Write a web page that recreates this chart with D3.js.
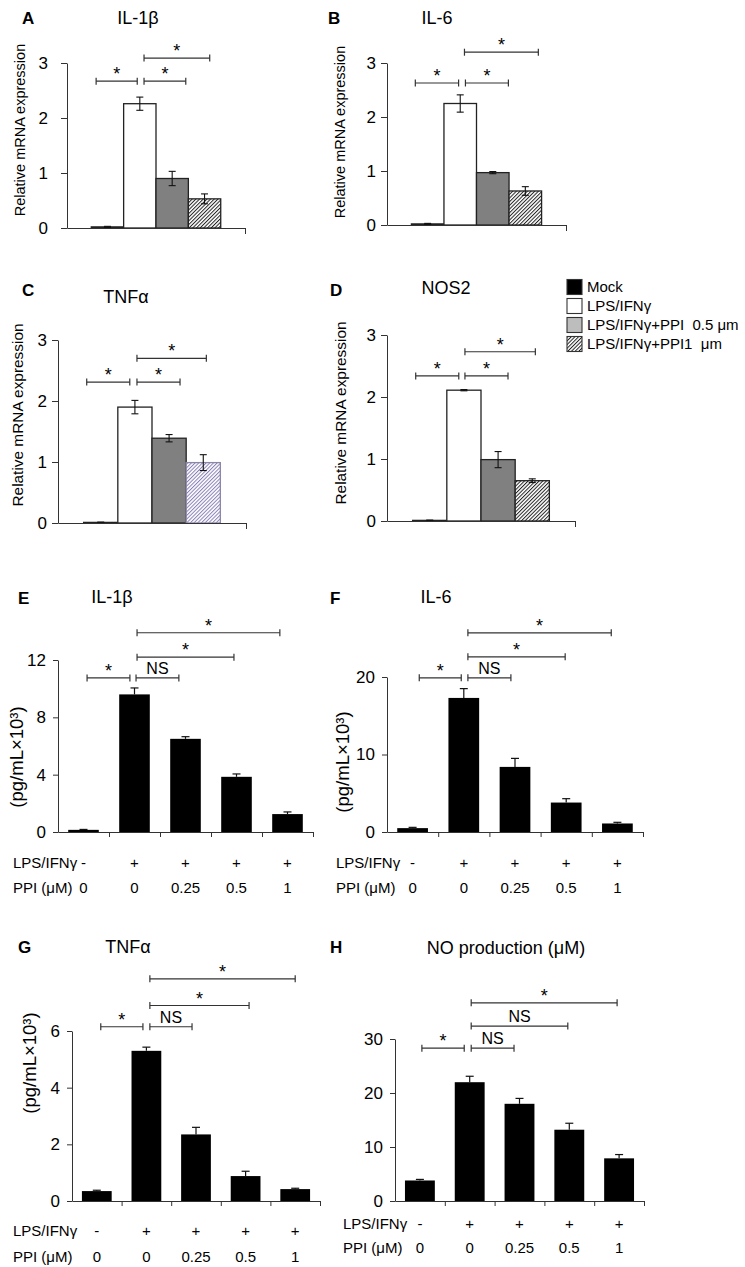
<!DOCTYPE html>
<html>
<head>
<meta charset="utf-8">
<script src="https://cdn.jsdelivr.net/npm/d3@7"></script>
<style>
  body { margin: 0; background: #fff; }
  svg text { font-family: 'Liberation Sans', Arial, sans-serif; fill: #000; }
</style>
</head>
<body>
<div class="canvas"></div>
<script>
'use strict';

// mRNA panels (A-D): 4 groups
const groups = ['Mock', 'LPS/IFNγ', 'LPS/IFNγ+PPI 0.5 μm', 'LPS/IFNγ+PPI1 μm'];
const legendLabels = ['Mock', 'LPS/IFNγ', 'LPS/IFNγ+PPI\u00a0 0.5 μm', 'LPS/IFNγ+PPI1\u00a0 μm'];
const mrnaTicks = [0, 1, 2, 3];

const il1bMrna = [0.02, 2.26, 0.9, 0.53];
const il1bMrnaErr = [0.01, 0.12, 0.13, 0.09];
const il6Mrna = [0.02, 2.25, 0.97, 0.63];
const il6MrnaErr = [0.01, 0.16, 0.02, 0.08];
const tnfMrna = [0.01, 1.9, 1.39, 0.99];
const tnfMrnaErr = [0.005, 0.11, 0.06, 0.13];
const nos2Mrna = [0.01, 2.11, 0.99, 0.65];
const nos2MrnaErr = [0.005, 0.01, 0.13, 0.03];

// significance brackets: [from, to (in bar units), level, label]
const il1bMrnaSig = [[0.15, 1.42, 2.67, '*'], [1.63, 2.92, 2.67, '*'], [1.63, 3.66, 3.09, '*']];
const il6MrnaSig = [[0.12, 1.45, 2.63, '*'], [1.66, 2.98, 2.63, '*'], [1.63, 3.9, 3.2, '*']];
const tnfMrnaSig = [[0.09, 1.35, 2.31, '*'], [1.56, 2.82, 2.31, '*'], [1.56, 3.59, 2.7, '*']];
const nos2MrnaSig = [[0.09, 1.35, 2.34, '*'], [1.53, 2.79, 2.34, '*'], [1.53, 3.59, 2.73, '*']];

// protein panels (E-H): 5 conditions
const conditions = ['Mock', 'LPS/IFNγ', 'PPI 0.25', 'PPI 0.5', 'PPI 1'];
const lpsRow = ['-', '+', '+', '+', '+'];
const ppiRow = ['0', '0', '0.25', '0.5', '1'];
const rowNames = ['LPS/IFNγ', 'PPI (μM)'];

const il1bProt = [0.15, 9.6, 6.5, 3.85, 1.25];
const il1bProtErr = [0.03, 0.45, 0.15, 0.2, 0.15];
const il6Prot = [0.5, 17.3, 8.4, 3.8, 1.1];
const il6ProtErr = [0.1, 1.2, 1.1, 0.5, 0.15];
const tnfProt = [0.35, 5.3, 2.35, 0.88, 0.42];
const tnfProtErr = [0.03, 0.13, 0.25, 0.17, 0.03];
const noProd = [3.8, 22.0, 18.0, 13.2, 7.9];
const noProdErr = [0.2, 1.1, 1.0, 1.2, 0.7];

const il1bProtTicks = [0, 4, 8, 12];
const il6ProtTicks = [0, 10, 20];
const tnfProtTicks = [0, 2, 4, 6];
const noProdTicks = [0, 10, 20, 30];

const il1bProtSig = [[0.57, 1.41, 10.75, '*'], [1.53, 2.37, 10.75, 'NS'], [1.55, 3.45, 12.2, '*'], [1.55, 4.35, 13.9, '*']];
const il6ProtSig = [[0.63, 1.45, 19.9, '*'], [1.58, 2.42, 19.9, 'NS'], [1.58, 3.48, 22.6, '*'], [1.58, 4.38, 25.7, '*']];
const tnfProtSig = [[0.58, 1.43, 6.15, '*'], [1.57, 2.42, 6.15, 'NS'], [1.57, 3.57, 6.9, '*'], [1.57, 4.5, 7.84, '*']];
const noProdSig = [[0.54, 1.39, 28.3, '*'], [1.53, 2.39, 28.3, 'NS'], [1.53, 3.47, 32.4, 'NS'], [1.53, 4.46, 36.7, '*']];

const svg = d3
  .select('.canvas')
  .append('svg')
  .attr('width', 745)
  .attr('height', 1267);

const defs = svg.append('defs');
const addHatch = (id, color) => {
  const p = defs
    .append('pattern')
    .attr('id', id)
    .attr('patternUnits', 'userSpaceOnUse')
    .attr('width', 2.6)
    .attr('height', 4)
    .attr('patternTransform', 'rotate(45)');
  p.append('rect').attr('width', 2.6).attr('height', 4).attr('fill', '#fff');
  p.append('line')
    .attr('x1', 0.5).attr('y1', 0).attr('x2', 0.5).attr('y2', 4)
    .attr('stroke', color)
    .attr('stroke-width', 1);
};
addHatch('hatch', '#222');
addHatch('hatchLilac', '#8a80b8');

const styleAxis = (sel, size) => {
  sel.attr('font-family', null).attr('font-size', null);
  sel.selectAll('path, line').attr('stroke', '#333');
  sel.selectAll('text').style('font-size', size + 'px');
};

const drawSig = (g, sig, u, y) => {
  sig.forEach(([a, b, level, label]) => {
    const yy = y(level);
    g.append('line')
      .attr('x1', u(a)).attr('x2', u(b))
      .attr('y1', yy).attr('y2', yy)
      .attr('stroke', '#333').attr('stroke-width', 1.2);
    [a, b].forEach(e => {
      g.append('line')
        .attr('x1', u(e)).attr('x2', u(e))
        .attr('y1', yy - 3.5).attr('y2', yy + 3.5)
        .attr('stroke', '#333').attr('stroke-width', 1.2);
    });
    g.append('text')
      .attr('x', (u(a) + u(b)) / 2)
      .attr('y', label === '*' ? yy - 1 : yy - 4)
      .attr('text-anchor', 'middle')
      .style('font-size', label === '*' ? '18px' : '16px')
      .text(label);
  });
};

const heading = p => {
  svg.append('text')
    .attr('x', p.letterX).attr('y', p.letterY)
    .style('font-size', '17px').style('font-weight', 'bold')
    .text(p.letter);
  svg.append('text')
    .attr('x', p.titleX).attr('y', p.titleY)
    .attr('text-anchor', 'middle')
    .style('font-size', '18px')
    .text(p.title);
};

const yTitle = (x, y, size, label) => {
  svg.append('text')
    .attr('transform', `translate(${x},${y}) rotate(-90)`)
    .attr('text-anchor', 'middle')
    .attr('dy', '0.35em')
    .style('font-size', size + 'px')
    .text(label);
};

// ---------- A-D ----------
const topFills = ['#000', '#fff', '#808080', null];

const topPanel = p => {
  const w = p.x1 - p.x0;
  const g = svg.append('g').attr('transform', `translate(${p.x0},0)`);
  const y = d3.scaleLinear().domain([0, 3]).range([p.y0, p.y3]);
  const x = d3.scaleBand().domain(groups).range([0, w]).paddingInner(0).paddingOuter(0.75);
  const u = d3.scaleLinear().domain([-0.75, 4.75]).range([0, w]);

  const data = groups.map((k, i) => ({ k, v: p.vals[i], e: p.errs[i], i }));

  g.selectAll('rect.bar')
    .data(data)
    .join('rect')
    .attr('class', 'bar')
    .attr('x', d => x(d.k))
    .attr('width', x.bandwidth())
    .attr('y', d => y(d.v))
    .attr('height', d => y(0) - y(d.v))
    .attr('fill', d => topFills[d.i] || `url(#${p.hatch})`)
    .attr('stroke', d => (d.i === 3 && p.hatch === 'hatchLilac' ? '#8c87a8' : '#222'))
    .attr('stroke-width', 1.3);

  const errs = g.selectAll('g.err').data(data).join('g').attr('class', 'err')
    .attr('stroke', '#111').attr('stroke-width', 1.1);
  const cx = d => x(d.k) + x.bandwidth() / 2;
  errs.append('line')
    .attr('x1', cx).attr('x2', cx)
    .attr('y1', d => y(d.v - d.e)).attr('y2', d => y(d.v + d.e));
  [-1, 1].forEach(s => {
    errs.append('line')
      .attr('x1', d => cx(d) - 3.5).attr('x2', d => cx(d) + 3.5)
      .attr('y1', d => y(d.v + s * d.e)).attr('y2', d => y(d.v + s * d.e));
  });

  const yAxis = d3.axisLeft(y).tickValues(mrnaTicks).tickSize(6).tickSizeOuter(0)
    .tickPadding(p.tickPad).tickFormat(d3.format('d'));
  g.append('g').call(yAxis).call(s => styleAxis(s, 17));

  const xAxis = d3.axisBottom(u).tickValues([4.75]).tickSize(6).tickSizeOuter(0).tickFormat('');
  g.append('g').attr('transform', `translate(0,${p.y0})`).call(xAxis).call(s => styleAxis(s, 15));

  drawSig(g, p.sig, u, y);
  heading(p);
  yTitle(p.ytX, p.ytY, p.ytSize, 'Relative mRNA expression');
};

[
  { letter: 'A', title: 'IL-1β', vals: il1bMrna, errs: il1bMrnaErr, sig: il1bMrnaSig,
    x0: 67, x1: 245, y0: 228, y3: 63, tickPad: 13, hatch: 'hatch',
    letterX: 22, letterY: 24, titleX: 138, titleY: 24, ytX: 20, ytY: 130, ytSize: 14.5 },
  { letter: 'B', title: 'IL-6', vals: il6Mrna, errs: il6MrnaErr, sig: il6MrnaSig,
    x0: 387, x1: 566, y0: 225, y3: 63, tickPad: 5, hatch: 'hatch',
    letterX: 328, letterY: 24, titleX: 437, titleY: 24, ytX: 340, ytY: 132, ytSize: 14.5 },
  { letter: 'C', title: 'TNFα', vals: tnfMrna, errs: tnfMrnaErr, sig: tnfMrnaSig,
    x0: 58, x1: 246, y0: 523, y3: 340, tickPad: 5, hatch: 'hatchLilac',
    letterX: 22, letterY: 296, titleX: 126, titleY: 303, ytX: 18, ytY: 415, ytSize: 15.4 },
  { letter: 'D', title: 'NOS2', vals: nos2Mrna, errs: nos2MrnaErr, sig: nos2MrnaSig,
    x0: 387, x1: 575, y0: 521, y3: 335, tickPad: 5, hatch: 'hatch',
    letterX: 330, letterY: 296, titleX: 446, titleY: 294, ytX: 341, ytY: 413, ytSize: 15.4 }
].forEach(topPanel);

// legend
const legendFills = ['#000', '#fff', '#bdbdbd', 'url(#hatch)'];
const legend = svg.append('g').attr('transform', 'translate(567,287)');
legend.selectAll('g')
  .data(legendLabels)
  .join('g')
  .attr('transform', (d, i) => `translate(0,${i * 19})`)
  .each(function (d, i) {
    const row = d3.select(this);
    row.append('rect')
      .attr('x', 0).attr('y', -7.5)
      .attr('width', 15).attr('height', 15)
      .attr('fill', legendFills[i])
      .attr('stroke', '#333').attr('stroke-width', 1.1);
    row.append('text')
      .attr('x', 20).attr('dy', '0.36em')
      .style('font-size', '15px')
      .style('white-space', 'pre')
      .text(d);
  });

// ---------- E-H ----------
const bottomPanel = p => {
  const w = p.x1 - p.x0;
  const g = svg.append('g').attr('transform', `translate(${p.x0},0)`);
  const y = d3.scaleLinear().domain([0, p.max]).range([p.y0, p.yTop]);
  const x = d3.scaleBand().domain(conditions).range([0, w]).paddingInner(0.4).paddingOuter(0.2);
  const u = d3.scaleLinear().domain([0, 5]).range([0, w]);

  const data = conditions.map((k, i) => ({ k, v: p.vals[i], e: p.errs[i], i }));
  const cx = d => x(d.k) + x.bandwidth() / 2;

  g.selectAll('rect.bar')
    .data(data)
    .join('rect')
    .attr('class', 'bar')
    .attr('x', d => x(d.k))
    .attr('width', x.bandwidth())
    .attr('y', d => y(d.v))
    .attr('height', d => y(0) - y(d.v))
    .attr('fill', '#000');

  const errs = g.selectAll('g.err').data(data).join('g').attr('class', 'err')
    .attr('stroke', '#111').attr('stroke-width', 1.2);
  errs.append('line')
    .attr('x1', cx).attr('x2', cx)
    .attr('y1', d => y(d.v)).attr('y2', d => y(d.v + d.e));
  errs.append('line')
    .attr('x1', d => cx(d) - 4).attr('x2', d => cx(d) + 4)
    .attr('y1', d => y(d.v + d.e)).attr('y2', d => y(d.v + d.e));

  const yAxis = d3.axisLeft(y).tickValues(p.ticks).tickSize(5).tickSizeOuter(0)
    .tickPadding(7).tickFormat(d3.format('d'));
  g.append('g').call(yAxis).call(s => styleAxis(s, 17));

  const xAxis = d3.axisBottom(u).tickValues([1, 2, 3, 4, 5]).tickSize(5).tickSizeOuter(0).tickFormat('');
  g.append('g').attr('transform', `translate(0,${p.y0})`).call(xAxis).call(s => styleAxis(s, 15));

  [lpsRow, ppiRow].forEach((row, r) => {
    g.selectAll(null)
      .data(data)
      .join('text')
      .attr('x', cx)
      .attr('y', p.rowY[r])
      .attr('text-anchor', 'middle')
      .style('font-size', '15px')
      .text(d => row[d.i]);
    svg.append('text')
      .attr('x', p.rowX).attr('y', p.rowY[r])
      .style('font-size', '15px')
      .text(rowNames[r]);
  });

  drawSig(g, p.sig, u, y);
  heading(p);
  if (p.ytX) yTitle(p.ytX, p.ytY, 18.5, '(pg/mL×10³)');
};

[
  { letter: 'E', title: 'IL-1β', vals: il1bProt, errs: il1bProtErr, sig: il1bProtSig, ticks: il1bProtTicks,
    max: 12, x0: 58, x1: 313, y0: 832, yTop: 660,
    letterX: 18, letterY: 604, titleX: 112, titleY: 603, ytX: 17, ytY: 757, rowX: 13, rowY: [868, 893] },
  { letter: 'F', title: 'IL-6', vals: il6Prot, errs: il6ProtErr, sig: il6ProtSig, ticks: il6ProtTicks,
    max: 20, x0: 387, x1: 643, y0: 832, yTop: 677,
    letterX: 330, letterY: 604, titleX: 436, titleY: 603, ytX: 343, ytY: 762, rowX: 336, rowY: [868, 893] },
  { letter: 'G', title: 'TNFα', vals: tnfProt, errs: tnfProtErr, sig: tnfProtSig, ticks: tnfProtTicks,
    max: 6, x0: 72, x1: 320, y0: 1201, yTop: 1031,
    letterX: 18, letterY: 953, titleX: 128, titleY: 953, ytX: 30, ytY: 1063, rowX: 13, rowY: [1236, 1262] },
  { letter: 'H', title: 'NO production (μM)', vals: noProd, errs: noProdErr, sig: noProdSig, ticks: noProdTicks,
    max: 30, x0: 395, x1: 644, y0: 1201, yTop: 1039,
    letterX: 330, letterY: 953, titleX: 506, titleY: 954, ytX: null, rowX: 343, rowY: [1229, 1253] }
].forEach(bottomPanel);
</script>
</body>
</html>
